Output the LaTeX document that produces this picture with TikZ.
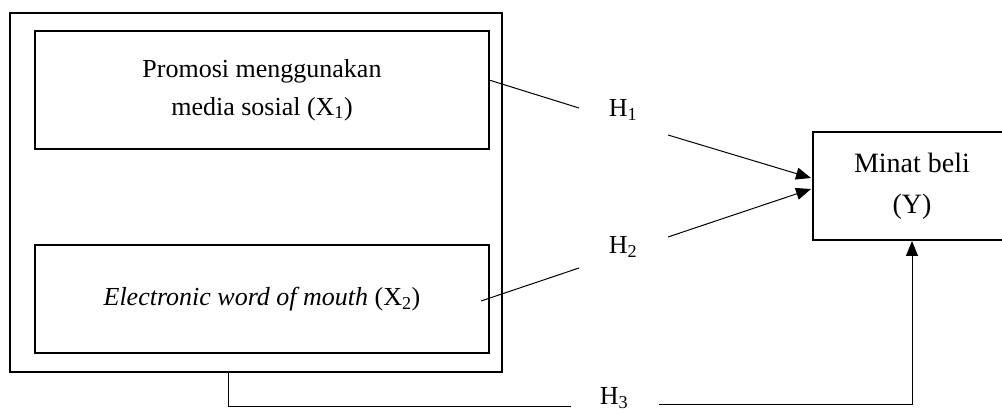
\documentclass[tikz,border=0pt]{standalone}
\usepackage{fontspec}
\setmainfont{Liberation Serif}
\usetikzlibrary{arrows.meta}
\begin{document}
\begin{tikzpicture}[x=1pt,y=-1pt,
  frame/.style={draw, line width=2pt, inner sep=0pt, align=center},
  conn/.style={line width=1pt},
  arr/.style={line width=1pt, -{Triangle[length=15pt,width=12pt]}},
  hlabel/.style={inner sep=0pt, font=\fontsize{26}{30}\selectfont}]
\useasboundingbox (0,0) rectangle (1002,411);
\node[frame, minimum width=492pt, minimum height=359pt] (outer) at (256,192.5) {};
\node[frame, minimum width=454pt, minimum height=118pt,
      font=\fontsize{26}{38}\selectfont] (box1) at (262,90)
      {Promosi menggunakan\\media sosial (X\textsubscript{1})};
\node[frame, minimum width=454pt, minimum height=108pt,
      font=\fontsize{26}{38}\selectfont] (box2) at (262,299)
      {\textit{Electronic word of mouth} (X\textsubscript{2})};
\node[frame, minimum width=198pt, minimum height=108pt,
      font=\fontsize{28}{41}\selectfont] (ybox) at (912,186)
      {Minat beli\\(Y)};
\node[hlabel] (h1) at (623,110) {H\textsubscript{1}};
\node[hlabel] (h2) at (623,247) {H\textsubscript{2}};
\node[hlabel] (h3) at (614,398) {H\textsubscript{3}};
% H1
\coordinate (h1s) at (489,80);
\coordinate (h1e) at (579,108);
\coordinate (h1b) at (668,135);
\coordinate (h1t) at (811,178);
\draw[conn] (h1s) -- (h1e);
\draw[arr] (h1b) -- (h1t);
% H2
\coordinate (h2s) at (481,301);
\coordinate (h2e) at (579,268);
\coordinate (h2b) at (668,237);
\coordinate (h2t) at (811,189);
\draw[conn] (h2s) -- (h2e);
\draw[arr] (h2b) -- (h2t);
% H3
\coordinate (h3s) at (228,372);
\coordinate (h3c) at (228,407);
\coordinate (h3e) at (571,407);
\coordinate (h3b) at (659,405);
\coordinate (h3r) at (912,405);
\draw[conn] (h3s) -- (h3c) -- (h3e);
\draw[arr] (h3b) -- (h3r) -- (ybox.south);
\end{tikzpicture}
\end{document}
